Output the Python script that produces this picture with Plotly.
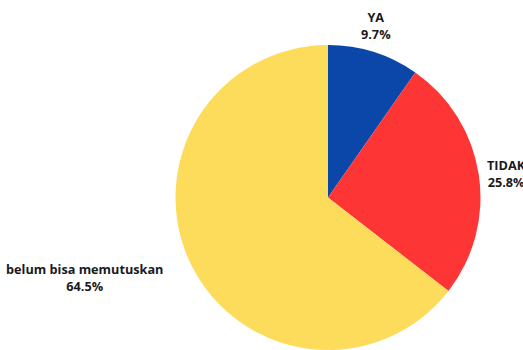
import math
import plotly.graph_objects as go

labels = ["YA", "TIDAK", "belum bisa memutuskan"]
values = [9.7, 25.8, 64.5]
colors = ["#0a47a8", "#fd3535", "#fddc5c"]

# style: radial distance (px) of each outside label from pie centre
label_dist = [160, 159, 182]

W, H = 523, 350
dom_x = [0.3356, 0.9187]
dom_y = [0.0, 0.8714]

fig = go.Figure(go.Pie(
    labels=labels,
    values=values,
    sort=False,
    direction="clockwise",
    rotation=0,
    marker=dict(colors=colors, line=dict(width=0)),
    textinfo="none",
    showlegend=False,
    domain=dict(x=dom_x, y=dom_y),
    hoverinfo="skip",
))

cx = (dom_x[0] + dom_x[1]) / 2 * W
cy = (dom_y[0] + dom_y[1]) / 2 * H  # from bottom
total = sum(values)
cum = 0.0
for lab, v, r in zip(labels, values, label_dist):
    mid = (cum + v / 2) / total * 2 * math.pi
    cum += v
    s, c = math.sin(mid), math.cos(mid)
    px = cx + r * s
    py = cy + r * c
    xa = "left" if s > 0.5 else ("right" if s < -0.5 else "center")
    ya = "bottom" if c > 0.7 else ("top" if c < -0.7 else "middle")
    fig.add_annotation(
        x=px / W, y=py / H, xref="paper", yref="paper",
        text=f"<b>{lab}</b><br><b>{v:.1f}%</b>",
        showarrow=False, xanchor=xa, yanchor=ya, align="center",
        font=dict(family="Open Sans", size=12.7, color="#1a1a1a"),
    )

fig.update_layout(
    width=W, height=H,
    margin=dict(l=0, r=0, t=0, b=0),
    paper_bgcolor="white",
    plot_bgcolor="white",
)
fig.write_html("out.html")
